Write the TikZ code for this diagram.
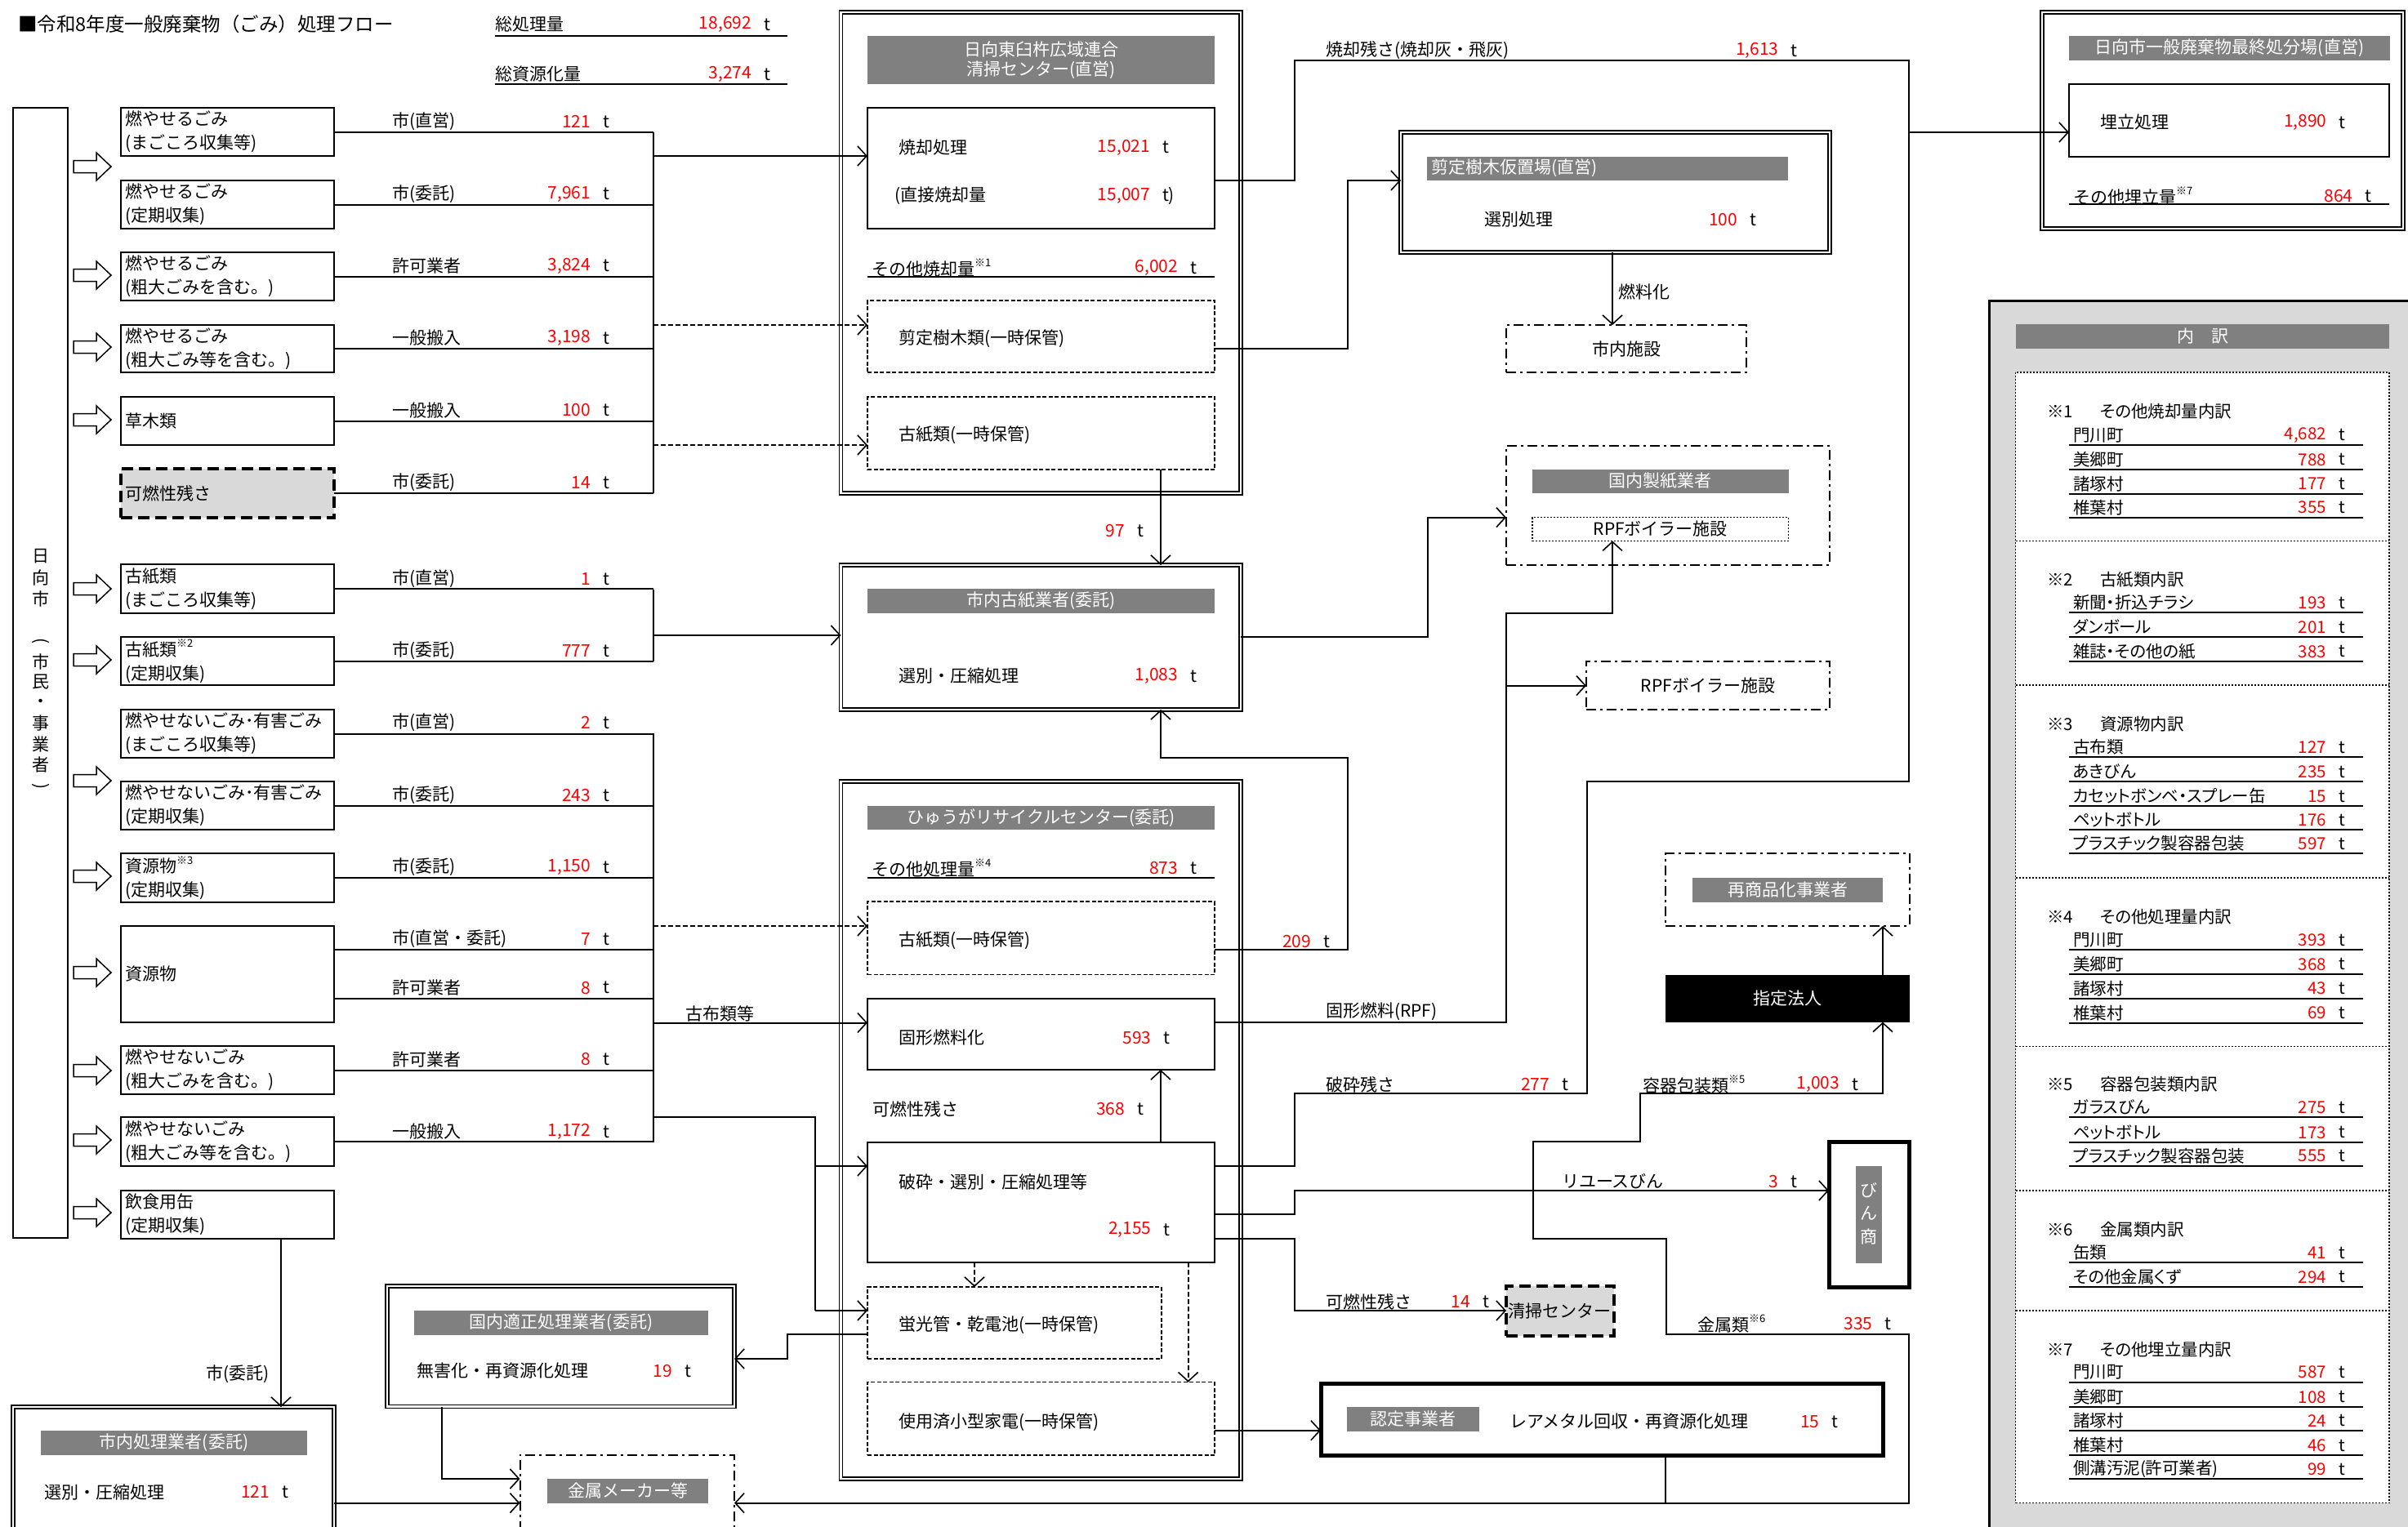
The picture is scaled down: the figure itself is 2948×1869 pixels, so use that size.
\documentclass[tikz,border=0pt]{standalone}
\usepackage{fontspec}
\setmainfont{Noto Sans CJK JP}
\newfontfamily\pjp[RawFeature=+palt]{Noto Sans CJK JP}
\usetikzlibrary{arrows.meta}
\definecolor{hdr}{HTML}{808080}
\definecolor{lgray}{HTML}{D9D9D9}
\definecolor{nred}{HTML}{FF0000}
\newcommand\sups[1]{\raisebox{0.5em}{\fontsize{13}{13}\selectfont #1}}
\newcommand\bx[7][]{\node[#1,minimum width={#4-#2},minimum height={#5-#3}] (#6) at ({(#2+#4)/2},{(#3+#5)/2}) {#7};}
\newcommand\qt[4]{\node[anchor=east,text=nred] (#1n) at (#2,#3) {#4};\node[anchor=west] (#1t) at ({#2+15},#3) {t};}
\newcommand\harrow[1]{\draw[line width=1.5pt] (90,{#1-7.5}) -- (118,{#1-7.5}) -- (118,{#1-17}) -- (136,#1) -- (118,{#1+17}) -- (118,{#1+7.5}) -- (90,{#1+7.5}) -- cycle;}
\newcommand\pitem[4]{\node[anchor=west,font=\pjp\fontsize{20.5}{24}\selectfont] (#1a) at (2538,{#2-12}) {#3};\node[anchor=east,text=nred,font=\pjp\fontsize{20.5}{24}\selectfont] (#1b) at (2848,{#2-12}) {#4};\node[anchor=west,font=\pjp\fontsize{20.5}{24}\selectfont] (#1c) at (2863,{#2-12}) {t};\draw[line width=2pt] (2533,#2) -- (2893,#2);}
\newcommand\phead[4]{\node[anchor=west,font=\pjp\fontsize{20.5}{24}\selectfont] (#1a) at (2506,#2) {#3};\node[anchor=west,font=\pjp\fontsize{20.5}{24}\selectfont] (#1b) at (2571,#2) {#4};}
\begin{document}
\begin{tikzpicture}[x=1pt,y=-1pt,
  every node/.style={inner sep=0pt,outer sep=0pt,font=\fontsize{21}{25}\selectfont},
  ln/.style={line width=2pt},
  arr/.style={line width=2pt,-{Straight Barb[length=11pt,width=24pt,line width=1.6pt]}},
  darr/.style={arr,dash pattern=on 6pt off 3pt},
  sbox/.style={draw,line width=2.2pt},
  dbox/.style={draw,line width=1.5pt,double,double distance=2.5pt},
  dashbox/.style={draw,line width=1.6pt,dash pattern=on 5pt off 2.5pt},
  ddbox/.style={draw,line width=2pt,dash pattern=on 12pt off 5pt on 3pt off 5pt},
  dotbox/.style={draw,line width=1.6pt,dash pattern=on 2pt off 2pt},
  tkbox/.style={draw,line width=5pt},
  gbox/.style={draw,fill=lgray,line width=4pt,dash pattern=on 14pt off 7pt},
  hd/.style={fill=hdr,text=white},
  lt/.style={anchor=west},
  nm/.style={anchor=west,align=left,font=\fontsize{21}{29}\selectfont},
]
\useasboundingbox (0,0) rectangle (2948,1869);
\fill[white] (0,0) rectangle (2948,1869);

% title and totals
\node[anchor=west,font=\fontsize{23.5}{26}\selectfont] (title) at (22,30) {■令和8年度一般廃棄物（ごみ）処理フロー};
\node[lt] (tot1) at (606,30) {総処理量}; \qt{tot1}{920}{30}{18,692}
\draw[ln] (606,43.5) -- (964,43.5);
\node[lt] (tot2) at (606,91) {総資源化量}; \qt{tot2}{920}{91}{3,274}
\draw[ln] (606,102.5) -- (964,102.5);

% city box
\bx[sbox]{16}{132}{83}{1516}{city}{}
\foreach \c/\yy [count=\k] in {日/681,向/707,市/733,市/810,民/835,・/861,事/886,業/911,者/937} {\node (v\k) at (50,\yy) {\c};}
\node[rotate=-90] (vpo) at (50,785) {(};
\node[rotate=-90] (vpc) at (50,963) {)};
\foreach \yy in {204,337,425,514,721,808,956,1073,1191,1311,1396,1485} {\harrow{\yy}}

% source boxes
\bx[sbox]{148}{132}{409}{191}{s1}{} \node[nm] (s1l) at (153,161.5) {燃やせるごみ\\(まごころ収集等)};
\bx[sbox]{148}{221}{409}{280}{s2}{} \node[nm] (s2l) at (153,250.5) {燃やせるごみ\\(定期収集)};
\bx[sbox]{148}{309}{409}{368}{s3}{} \node[nm] (s3l) at (153,338.5) {燃やせるごみ\\(粗大ごみを含む。)};
\bx[sbox]{148}{398}{409}{456}{s4}{} \node[nm] (s4l) at (153,427) {燃やせるごみ\\(粗大ごみ等を含む。)};
\bx[sbox]{148}{486}{409}{545}{s5}{} \node[nm] (s5l) at (153,515.5) {草木類};
\bx[gbox]{148}{574}{409}{634}{s6}{} \node[nm] (s6l) at (153,604) {可燃性残さ};
\bx[sbox]{148}{691}{409}{751}{s7}{} \node[nm] (s7l) at (153,721) {古紙類\\(まごころ収集等)};
\bx[sbox]{148}{780}{409}{839}{s8}{} \node[nm] (s8l) at (153,809.5) {古紙類\sups{※2}\\(定期収集)};
\bx[sbox]{148}{869}{409}{928}{s9}{} \node[nm] (s9l) at (153,898.5) {燃やせないごみ･有害ごみ\\(まごころ収集等)};
\bx[sbox]{148}{957}{409}{1016}{s10}{} \node[nm] (s10l) at (153,986.5) {燃やせないごみ･有害ごみ\\(定期収集)};
\bx[sbox]{148}{1045}{409}{1105}{s11}{} \node[nm] (s11l) at (153,1075) {資源物\sups{※3}\\(定期収集)};
\bx[sbox]{148}{1134}{409}{1252}{s12}{} \node[nm] (s12l) at (153,1193) {資源物};
\bx[sbox]{148}{1281}{409}{1340}{s13}{} \node[nm] (s13l) at (153,1310.5) {燃やせないごみ\\(粗大ごみを含む。)};
\bx[sbox]{148}{1368}{409}{1428}{s14}{} \node[nm] (s14l) at (153,1398) {燃やせないごみ\\(粗大ごみ等を含む。)};
\bx[sbox]{148}{1458}{409}{1517}{s15}{} \node[nm] (s15l) at (153,1487.5) {飲食用缶\\(定期収集)};

% collector labels
\foreach \yy/\lab/\num [count=\k] in {162/市(直営)/121, 250.5/市(委託)/{7,961}, 338.5/許可業者/{3,824}, 427/一般搬入/{3,198}, 515.5/一般搬入/100, 604/市(委託)/14, 722/市(直営)/1, 810/市(委託)/777, 898/市(直営)/2, 987/市(委託)/243, 1075/市(委託)/{1,150}, 1163/市(直営・委託)/7, 1222.6/許可業者/8, 1310/許可業者/8, 1399/一般搬入/{1,172}} {
  \node[lt] (cl\k) at (480,\yy-13) {\lab};
  \qt{cq\k}{723}{\yy-13}{\num}
}
\foreach \s in {s1,s2,s3,s4,s5,s6,s7,s8,s9,s10,s11,s13,s14} {\draw[ln] (\s.east) -- (\s.east -| 800,0);}
\draw[ln] (s12.east |- 0,1163) -- (800,1163);
\draw[ln] (s12.east |- 0,1222.6) -- (800,1222.6);
\draw[ln] (800,162) -- (800,604);
\draw[ln] (800,722) -- (800,810);
\draw[ln] (800,898) -- (800,1399);

% central: clean center
\bx[dbox]{1029.5}{15}{1519}{604}{c1}{}
\bx[hd,align=center,font=\fontsize{21}{24}\selectfont]{1062}{44}{1487}{102.5}{c1h}{日向東臼杵広域連合\\清掃センター(直営)}
\bx[sbox]{1062}{132}{1487}{280}{inc}{}
\node[lt] (inc1) at (1100,180.5) {焼却処理}; \qt{inc1}{1408}{180.5}{15,021}
\node[lt] (inc2) at (1095,240) {(直接焼却量}; \node[anchor=east,text=nred] (inc2n) at (1408,240) {15,007}; \node[lt] (inc2t) at (1423,240) {t)};
\node[lt] (oth1) at (1067,328) {その他焼却量\sups{※1}}; \qt{oth1}{1442}{328}{6,002}
\draw[ln] (1062,339) -- (1487,339);
\bx[dashbox]{1062}{368}{1487}{456}{prn}{} \node[lt] (prnl) at (1100,415) {剪定樹木類(一時保管)};
\bx[dashbox]{1062}{486}{1487}{575}{kp1}{} \node[lt] (kp1l) at (1100,533) {古紙類(一時保管)};
\qt{q97}{1377}{650}{97}

\bx[dbox]{1029.5}{692}{1519}{869}{c2}{}
\bx[hd]{1062}{721}{1487}{751}{c2h}{市内古紙業者(委託)}
\node[lt] (c2l) at (1100,828) {選別・圧縮処理}; \qt{c2l}{1442}{828}{1,083}

\bx[dbox]{1029.5}{957}{1519}{1811}{c3}{}
\bx[hd]{1062}{987}{1487}{1016}{c3h}{ひゅうがリサイクルセンター(委託)}
\node[lt] (oth4) at (1067,1063) {その他処理量\sups{※4}}; \qt{oth4}{1442}{1063}{873}
\draw[ln] (1062,1075) -- (1487,1075);
\bx[dashbox]{1062}{1104}{1487}{1193.6}{kp2}{} \node[lt] (kp2l) at (1100,1152) {古紙類(一時保管)};
\bx[sbox]{1062}{1222.6}{1487}{1310}{rpf}{} \node[lt] (rpfl) at (1100,1271) {固形燃料化}; \qt{rpfl}{1409.5}{1271}{593}
\node[lt] (kr368) at (1068,1358) {可燃性残さ}; \qt{kr368}{1377}{1358}{368}
\bx[sbox]{1062}{1399}{1487}{1546}{crush}{}
\node[lt] (crl) at (1100,1447) {破砕・選別・圧縮処理等}; \qt{crl}{1409.5}{1506}{2,155}
\bx[dashbox]{1062}{1576}{1421.7}{1664}{flu}{} \node[lt] (flul) at (1100,1623) {蛍光管・乾電池(一時保管)};
\bx[dashbox]{1062}{1692.6}{1487}{1782}{kaden}{} \node[lt] (kadenl) at (1100,1741.6) {使用済小型家電(一時保管)};

% left bottom
\node[lt] (ishi) at (252,1683) {市(委託)};
\bx[dbox]{16}{1723}{409}{1900}{snai}{}
\bx[hd]{50}{1752}{376}{1781.5}{snaih}{市内処理業者(委託)}
\node[lt] (snail) at (54,1827) {選別・圧縮処理}; \qt{snail}{330}{1827}{121}
\bx[dbox]{474}{1575}{899}{1722.5}{kte}{}
\bx[hd]{507}{1605}{867}{1634.5}{kteh}{国内適正処理業者(委託)}
\node[lt] (ktel) at (510,1679) {無害化・再資源化処理}; \qt{ktel}{823}{1679}{19}
\bx[ddbox]{636.5}{1781.5}{899}{1900}{kin}{}
\bx[hd]{670}{1811}{867}{1840.6}{kinh}{金属メーカー等}

% right center
\node[lt] (ash) at (1623,62) {焼却残さ(焼却灰・飛灰)}; \qt{ash}{2177.6}{62}{1,613}
\bx[dbox]{1715}{162}{2240}{309}{sent}{}
\bx[hd]{1747}{191.7}{2188.5}{220.7}{senth}{}
\node[lt,text=white] (sentht) at (1752,206) {剪定樹木仮置場(直営)};
\node[lt] (sentl) at (1817,269) {選別処理}; \qt{sentl}{2127}{269}{100}
\node[lt] (nenryo) at (1981,357.7) {燃料化};
\bx[ddbox]{1844}{398}{2138}{456}{shinai}{市内施設}
\bx[ddbox]{1844}{545.6}{2240}{691.5}{seishi}{}
\bx[hd]{1876}{574.7}{2189.6}{603.7}{seishih}{国内製紙業者}
\bx[dotbox]{1876}{633.6}{2189.6}{662.4}{rpfin}{RPFボイラー施設}
\bx[ddbox]{1942}{809.7}{2240}{869}{rpfb}{RPFボイラー施設}
\bx[ddbox]{2039.4}{1045}{2337.5}{1134}{saisho}{}
\bx[hd]{2072}{1075}{2305}{1105}{saishoh}{再商品化事業者}
\bx[fill=black,text=white]{2039.4}{1193.6}{2337.5}{1251.6}{shitei}{指定法人}
\bx[tkbox]{2239}{1398}{2337.5}{1576.5}{bin}{}
\bx[hd]{2272}{1428}{2304}{1547}{binh}{}
\node[text=white] (bin1) at (2288,1458) {び};
\node[text=white] (bin2) at (2288,1486) {ん};
\node[text=white] (bin3) at (2288,1514) {商};
\bx[gbox]{1844}{1575}{1975.5}{1635.6}{seiso}{清掃センター}
\bx[tkbox]{1617}{1694}{2305}{1782.6}{nintei}{}
\bx[hd]{1649}{1723}{1811}{1752.5}{ninteih}{認定事業者}
\node[lt] (nintl) at (1848,1741) {レアメタル回収・再資源化処理}; \qt{nintl}{2227.5}{1741}{15}

\node[lt] (kofu) at (839,1241) {古布類等};
\qt{q209}{1605}{1153}{209}
\node[lt] (rpfo) at (1623,1239) {固形燃料(RPF)};
\node[lt] (hsz) at (1623,1328) {破砕残さ}; \qt{hsz}{1897}{1328}{277}
\node[lt] (yoki) at (2011,1328) {容器包装類\sups{※5}}; \qt{yoki}{2252}{1328}{1,003}
\node[lt] (reuse) at (1912,1447) {リユースびん}; \qt{reuse}{2177}{1447}{3}
\node[lt] (kr14) at (1623,1594) {可燃性残さ}; \qt{kr14}{1800}{1594}{14}
\node[lt] (kinz) at (2078,1621) {金属類\sups{※6}}; \qt{kinz}{2292.5}{1621}{335}

% final disposal
\bx[dbox]{2500}{15}{2942}{280}{saishu}{}
\bx[hd]{2533}{44}{2926}{74}{saishuh}{日向市一般廃棄物最終処分場(直営)}
\bx[sbox]{2533}{103}{2925}{191.7}{umetate}{}
\node[lt] (umel) at (2571,150) {埋立処理}; \qt{umel}{2848.5}{150}{1,890}
\node[lt] (oth7) at (2538,240) {その他埋立量\sups{※7}}; \qt{oth7}{2880.6}{240}{864}
\draw[ln] (2533,250) -- (2925,250);

% panel
\bx[draw,fill=lgray,line width=3pt]{2435}{368}{2990}{1900}{panel}{}
\bx[hd]{2468}{397}{2925}{427}{panelh}{内\hspace{1em}訳}
\bx[dotbox,fill=white]{2467.5}{456}{2925}{1840.6}{pbox}{}
\foreach \yy in {662.4,838.8,1075,1281.5,1458,1604.8} {\draw[line width=1.6pt,dash pattern=on 2pt off 2pt] (2467.5,\yy) -- (2925,\yy);}
\phead{h1}{504}{※1}{その他焼却量内訳}
\pitem{a1}{544.8}{門川町}{4,682}
\pitem{a2}{574.7}{美郷町}{788}
\pitem{a3}{604.6}{諸塚村}{177}
\pitem{a4}{633.6}{椎葉村}{355}
\phead{h2}{710}{※2}{古紙類内訳}
\pitem{b1}{750}{新聞・折込チラシ}{193}
\pitem{b2}{780}{ダンボール}{201}
\pitem{b3}{809.7}{雑誌・その他の紙}{383}
\phead{h3}{887}{※3}{資源物内訳}
\pitem{c1}{927}{古布類}{127}
\pitem{c2}{957}{あきびん}{235}
\pitem{c3}{987}{カセットボンベ・スプレー缶}{15}
\pitem{c4}{1016}{ペットボトル}{176}
\pitem{c5}{1045}{プラスチック製容器包装}{597}
\phead{h4}{1123}{※4}{その他処理量内訳}
\pitem{d1}{1163}{門川町}{393}
\pitem{d2}{1192.7}{美郷町}{368}
\pitem{d3}{1222.6}{諸塚村}{43}
\pitem{d4}{1252.5}{椎葉村}{69}
\phead{h5}{1328}{※5}{容器包装類内訳}
\pitem{e1}{1368}{ガラスびん}{275}
\pitem{e2}{1398.7}{ペットボトル}{173}
\pitem{e3}{1427.7}{プラスチック製容器包装}{555}
\phead{h6}{1506}{※6}{金属類内訳}
\pitem{f1}{1546}{缶類}{41}
\pitem{f2}{1575.8}{その他金属くず}{294}
\phead{h7}{1652.7}{※7}{その他埋立量内訳}
\pitem{g1}{1692.6}{門川町}{587}
\pitem{g2}{1722.7}{美郷町}{108}
\pitem{g3}{1751.7}{諸塚村}{24}
\pitem{g4}{1782}{椎葉村}{46}
\pitem{g5}{1811}{側溝汚泥(許可業者)}{99}

% connectors
\draw[arr] (800,191) -- (inc.west |- 0,191);
\draw[darr] (800,398) -- (prn.west |- 0,398);
\draw[darr] (800,545) -- (kp1.west |- 0,545);
\draw[arr] (800,778) -- (c2.west |- 0,778);
\draw[darr] (800,1134) -- (kp2.west |- 0,1134);
\draw[arr] (800,1252.5) -- (rpf.west |- 0,1252.5);
\draw[ln] (800,1368) -- (998,1368) -- (998,1605);
\draw[arr] (998,1428) -- (crush.west |- 0,1428);
\draw[arr] (998,1605) -- (flu.west |- 0,1605);
\draw[arr] (flu.west |- 0,1634) -- (964,1634) -- (964,1664) -- (kte.east |- 0,1664);
\draw[arr] (kte.south -| 541,0) -- (541,1811) -- (kin.west |- 0,1811);
\draw[arr] (s15.south -| 344,0) -- (snai.north -| 344,0);
\draw[arr] (snai.east |- 0,1840.6) -- (kin.west |- 0,1840.6);
\draw[arr] (inc.east |- 0,221) -- (1585,221) -- (1585,74) -- (2337,74) -- (2337,162) -- (umetate.west |- 0,162);
\draw[arr] (prn.east |- 0,426.5) -- (1650,426.5) -- (1650,221) -- (sent.west |- 0,221);
\draw[arr] (kp1.south -| 1421,0) -- (c2.north -| 1421,0);
\draw[arr] (sent.south -| 1974,0) -- (shinai.north -| 1974,0);
\draw[arr] (c2.east |- 0,780) -- (1748,780) -- (1748,633.6) -- (seishi.west |- 0,633.6);
\draw[arr] (kp2.east |- 0,1163) -- (1650,1163) -- (1650,928) -- (1421,928) -- (c2.south -| 1421,0);
\draw[arr] (rpf.east |- 0,1252) -- (1844,1252) -- (1844,751) -- (1974,751) -- (rpfin.south -| 1974,0);
\draw[arr] (1844,839.6) -- (rpfb.west |- 0,839.6);
\draw[arr] (crush.north -| 1421,0) -- (rpf.south -| 1421,0);
\draw[ln] (crush.east |- 0,1428) -- (1585,1428) -- (1585,1339) -- (1943,1339) -- (1943,957) -- (2337,957) -- (2337,162);
\draw[arr] (crush.east |- 0,1487) -- (1585,1487) -- (1585,1458) -- (bin.west |- 0,1458);
\draw[arr] (1877,1458) -- (1877,1398) -- (2008,1398) -- (2008,1339) -- (2305,1339) -- (shitei.south -| 2305,0);
\draw[arr] (shitei.north -| 2305,0) -- (saisho.south -| 2305,0);
\draw[arr] (1877,1458) -- (1877,1516.6) -- (2040,1516.6) -- (2040,1634) -- (2337,1634) -- (2337,1840.6) -- (kin.east |- 0,1840.6);
\draw[arr] (crush.east |- 0,1516.6) -- (1585,1516.6) -- (1585,1605) -- (seiso.west |- 0,1605);
\draw[darr] (crush.south -| 1193,0) -- (flu.north -| 1193,0);
\draw[darr] (crush.south -| 1454.6,0) -- (kaden.north -| 1454.6,0);
\draw[arr] (kaden.east |- 0,1751.7) -- (nintei.west |- 0,1751.7);
\draw[ln] (nintei.south -| 2039,0) -- (2039,1840.6);
\end{tikzpicture}
\end{document}
